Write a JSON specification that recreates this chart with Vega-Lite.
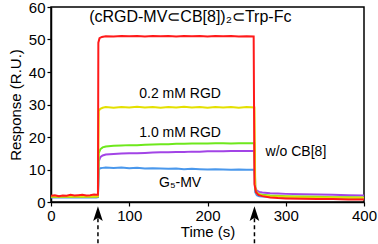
{
  "$schema": "https://vega.github.io/schema/vega-lite/v6.json",
  "autosize": {"type": "none"},
  "width": 313,
  "height": 195,
  "padding": {"left": 51, "top": 7, "right": 14, "bottom": 42},
  "background": "white",
  "config": {
    "view": {"stroke": "black", "strokeWidth": 1.5},
    "font": "Liberation Sans",
    "axis": {
      "grid": false,
      "domainColor": "black",
      "domainWidth": 1.5,
      "tickColor": "black",
      "tickSize": 4,
      "tickWidth": 1.2,
      "labelColor": "black",
      "labelFontSize": 15,
      "labelFont": "Liberation Sans",
      "labelFlush": false,
      "labelOverlap": false,
      "titleFont": "Liberation Sans",
      "titleFontSize": 14,
      "titleFontWeight": "normal",
      "titleColor": "black"
    }
  },
  "datasets": {
    "curves": [
      {"t": 0, "v": 1.4, "s": "blue"}, {"t": 58, "v": 1.4, "s": "blue"}, {"t": 60, "v": 1.5, "s": "blue"},
      {"t": 61, "v": 10.0, "s": "blue"}, {"t": 63, "v": 10.4, "s": "blue"}, {"t": 66, "v": 10.5, "s": "blue"},
      {"t": 70, "v": 10.6, "s": "blue"}, {"t": 80, "v": 10.5, "s": "blue"}, {"t": 90, "v": 10.6, "s": "blue"},
      {"t": 100, "v": 10.4, "s": "blue"}, {"t": 110, "v": 10.5, "s": "blue"}, {"t": 120, "v": 10.3, "s": "blue"},
      {"t": 130, "v": 10.4, "s": "blue"}, {"t": 140, "v": 10.3, "s": "blue"}, {"t": 150, "v": 10.2, "s": "blue"},
      {"t": 160, "v": 10.3, "s": "blue"}, {"t": 170, "v": 10.1, "s": "blue"}, {"t": 180, "v": 10.2, "s": "blue"},
      {"t": 190, "v": 10.1, "s": "blue"}, {"t": 200, "v": 10.0, "s": "blue"}, {"t": 210, "v": 10.1, "s": "blue"},
      {"t": 220, "v": 10.0, "s": "blue"}, {"t": 230, "v": 9.9, "s": "blue"}, {"t": 240, "v": 10.0, "s": "blue"},
      {"t": 250, "v": 9.9, "s": "blue"}, {"t": 260, "v": 9.9, "s": "blue"},
      {"t": 261, "v": 3.0, "s": "blue"}, {"t": 263, "v": 2.1, "s": "blue"}, {"t": 266, "v": 1.8, "s": "blue"},
      {"t": 270, "v": 1.7, "s": "blue"}, {"t": 280, "v": 1.6, "s": "blue"}, {"t": 300, "v": 1.5, "s": "blue"},
      {"t": 320, "v": 1.4, "s": "blue"}, {"t": 340, "v": 1.4, "s": "blue"}, {"t": 360, "v": 1.3, "s": "blue"},
      {"t": 380, "v": 1.3, "s": "blue"}, {"t": 400, "v": 1.2, "s": "blue"},

      {"t": 0, "v": 1.6, "s": "purple"}, {"t": 58, "v": 1.6, "s": "purple"}, {"t": 60, "v": 1.7, "s": "purple"},
      {"t": 61, "v": 12.5, "s": "purple"}, {"t": 63, "v": 13.8, "s": "purple"}, {"t": 66, "v": 14.3, "s": "purple"},
      {"t": 70, "v": 14.6, "s": "purple"}, {"t": 80, "v": 14.8, "s": "purple"}, {"t": 90, "v": 14.9, "s": "purple"},
      {"t": 100, "v": 15.0, "s": "purple"}, {"t": 110, "v": 15.0, "s": "purple"}, {"t": 120, "v": 15.1, "s": "purple"},
      {"t": 130, "v": 15.2, "s": "purple"}, {"t": 140, "v": 15.3, "s": "purple"}, {"t": 150, "v": 15.3, "s": "purple"},
      {"t": 160, "v": 15.4, "s": "purple"}, {"t": 170, "v": 15.4, "s": "purple"}, {"t": 180, "v": 15.5, "s": "purple"},
      {"t": 190, "v": 15.5, "s": "purple"}, {"t": 200, "v": 15.6, "s": "purple"}, {"t": 210, "v": 15.6, "s": "purple"},
      {"t": 220, "v": 15.6, "s": "purple"}, {"t": 230, "v": 15.7, "s": "purple"}, {"t": 240, "v": 15.7, "s": "purple"},
      {"t": 250, "v": 15.7, "s": "purple"}, {"t": 260, "v": 15.7, "s": "purple"},
      {"t": 261, "v": 4.5, "s": "purple"}, {"t": 263, "v": 3.5, "s": "purple"}, {"t": 266, "v": 3.1, "s": "purple"},
      {"t": 270, "v": 2.9, "s": "purple"}, {"t": 280, "v": 2.7, "s": "purple"}, {"t": 290, "v": 2.6, "s": "purple"},
      {"t": 300, "v": 2.5, "s": "purple"}, {"t": 320, "v": 2.4, "s": "purple"}, {"t": 340, "v": 2.3, "s": "purple"},
      {"t": 360, "v": 2.2, "s": "purple"}, {"t": 380, "v": 2.1, "s": "purple"}, {"t": 400, "v": 2.0, "s": "purple"},

      {"t": 0, "v": 1.6, "s": "green"}, {"t": 58, "v": 1.6, "s": "green"}, {"t": 60, "v": 1.7, "s": "green"},
      {"t": 61, "v": 15.0, "s": "green"}, {"t": 63, "v": 16.2, "s": "green"}, {"t": 66, "v": 16.8, "s": "green"},
      {"t": 70, "v": 17.1, "s": "green"}, {"t": 80, "v": 17.3, "s": "green"}, {"t": 90, "v": 17.4, "s": "green"},
      {"t": 100, "v": 17.5, "s": "green"}, {"t": 110, "v": 17.5, "s": "green"}, {"t": 120, "v": 17.6, "s": "green"},
      {"t": 130, "v": 17.7, "s": "green"}, {"t": 140, "v": 17.8, "s": "green"}, {"t": 150, "v": 17.8, "s": "green"},
      {"t": 160, "v": 17.9, "s": "green"}, {"t": 170, "v": 17.9, "s": "green"}, {"t": 180, "v": 18.0, "s": "green"},
      {"t": 190, "v": 18.0, "s": "green"}, {"t": 200, "v": 18.0, "s": "green"}, {"t": 210, "v": 18.1, "s": "green"},
      {"t": 220, "v": 18.1, "s": "green"}, {"t": 230, "v": 18.0, "s": "green"}, {"t": 240, "v": 18.1, "s": "green"},
      {"t": 250, "v": 18.1, "s": "green"}, {"t": 260, "v": 18.1, "s": "green"},
      {"t": 261, "v": 4.0, "s": "green"}, {"t": 263, "v": 2.8, "s": "green"}, {"t": 266, "v": 2.4, "s": "green"},
      {"t": 270, "v": 2.2, "s": "green"}, {"t": 280, "v": 2.0, "s": "green"}, {"t": 300, "v": 1.8, "s": "green"},
      {"t": 320, "v": 1.7, "s": "green"}, {"t": 340, "v": 1.6, "s": "green"}, {"t": 360, "v": 1.5, "s": "green"},
      {"t": 380, "v": 1.5, "s": "green"}, {"t": 400, "v": 1.4, "s": "green"},

      {"t": 0, "v": 1.7, "s": "yellow"}, {"t": 58, "v": 1.7, "s": "yellow"}, {"t": 60, "v": 1.8, "s": "yellow"},
      {"t": 61, "v": 28.0, "s": "yellow"}, {"t": 63, "v": 28.7, "s": "yellow"}, {"t": 66, "v": 29.0, "s": "yellow"},
      {"t": 70, "v": 29.2, "s": "yellow"}, {"t": 80, "v": 29.0, "s": "yellow"}, {"t": 90, "v": 29.2, "s": "yellow"},
      {"t": 100, "v": 29.1, "s": "yellow"}, {"t": 110, "v": 29.3, "s": "yellow"}, {"t": 120, "v": 29.1, "s": "yellow"},
      {"t": 130, "v": 29.2, "s": "yellow"}, {"t": 140, "v": 29.0, "s": "yellow"}, {"t": 150, "v": 29.2, "s": "yellow"},
      {"t": 160, "v": 29.1, "s": "yellow"}, {"t": 170, "v": 29.3, "s": "yellow"}, {"t": 180, "v": 29.1, "s": "yellow"},
      {"t": 190, "v": 29.2, "s": "yellow"}, {"t": 200, "v": 29.0, "s": "yellow"}, {"t": 210, "v": 29.2, "s": "yellow"},
      {"t": 220, "v": 29.1, "s": "yellow"}, {"t": 230, "v": 29.2, "s": "yellow"}, {"t": 240, "v": 29.0, "s": "yellow"},
      {"t": 250, "v": 29.2, "s": "yellow"}, {"t": 260, "v": 29.1, "s": "yellow"},
      {"t": 261, "v": 4.5, "s": "yellow"}, {"t": 263, "v": 2.8, "s": "yellow"}, {"t": 266, "v": 2.3, "s": "yellow"},
      {"t": 270, "v": 2.0, "s": "yellow"}, {"t": 280, "v": 1.8, "s": "yellow"}, {"t": 300, "v": 1.6, "s": "yellow"},
      {"t": 320, "v": 1.5, "s": "yellow"}, {"t": 340, "v": 1.4, "s": "yellow"}, {"t": 360, "v": 1.4, "s": "yellow"},
      {"t": 380, "v": 1.3, "s": "yellow"}, {"t": 400, "v": 1.3, "s": "yellow"},

      {"t": 0, "v": 1.9, "s": "red"}, {"t": 5, "v": 2.1, "s": "red"}, {"t": 10, "v": 1.8, "s": "red"},
      {"t": 15, "v": 2.0, "s": "red"}, {"t": 20, "v": 1.9, "s": "red"}, {"t": 25, "v": 2.2, "s": "red"},
      {"t": 30, "v": 2.0, "s": "red"}, {"t": 35, "v": 2.1, "s": "red"}, {"t": 40, "v": 2.2, "s": "red"},
      {"t": 45, "v": 2.0, "s": "red"}, {"t": 50, "v": 2.1, "s": "red"}, {"t": 55, "v": 2.3, "s": "red"},
      {"t": 58, "v": 2.2, "s": "red"}, {"t": 60, "v": 2.2, "s": "red"},
      {"t": 60.5, "v": 49.0, "s": "red"}, {"t": 62, "v": 50.4, "s": "red"}, {"t": 65, "v": 50.8, "s": "red"},
      {"t": 70, "v": 51.0, "s": "red"}, {"t": 80, "v": 50.9, "s": "red"}, {"t": 90, "v": 51.1, "s": "red"},
      {"t": 100, "v": 51.0, "s": "red"}, {"t": 110, "v": 51.1, "s": "red"}, {"t": 120, "v": 50.9, "s": "red"},
      {"t": 130, "v": 51.1, "s": "red"}, {"t": 140, "v": 51.0, "s": "red"}, {"t": 150, "v": 51.1, "s": "red"},
      {"t": 160, "v": 50.9, "s": "red"}, {"t": 170, "v": 51.1, "s": "red"}, {"t": 180, "v": 51.0, "s": "red"},
      {"t": 190, "v": 51.1, "s": "red"}, {"t": 200, "v": 50.9, "s": "red"}, {"t": 210, "v": 51.1, "s": "red"},
      {"t": 220, "v": 51.0, "s": "red"}, {"t": 230, "v": 51.1, "s": "red"}, {"t": 240, "v": 50.9, "s": "red"},
      {"t": 250, "v": 51.0, "s": "red"}, {"t": 259, "v": 50.9, "s": "red"},
      {"t": 260, "v": 5.5, "s": "red"}, {"t": 262, "v": 3.0, "s": "red"}, {"t": 265, "v": 2.2, "s": "red"},
      {"t": 270, "v": 1.8, "s": "red"}, {"t": 280, "v": 1.4, "s": "red"}, {"t": 290, "v": 1.2, "s": "red"},
      {"t": 300, "v": 1.1, "s": "red"}, {"t": 320, "v": 1.0, "s": "red"}, {"t": 340, "v": 0.9, "s": "red"},
      {"t": 360, "v": 0.9, "s": "red"}, {"t": 380, "v": 0.8, "s": "red"}, {"t": 400, "v": 0.8, "s": "red"}
    ],
    "labels": [
      {"t": 178, "v": 56.8, "label": "(cRGD-MV⊂CB[8])₂⊂Trp-Fc", "fs": 16},
      {"t": 165, "v": 33.2, "label": "0.2 mM RGD", "fs": 14},
      {"t": 165, "v": 21.2, "label": "1.0 mM RGD", "fs": 14},
      {"t": 165, "v": 6.0, "label": "G₅-MV", "fs": 14},
      {"t": 313, "v": 15.4, "label": "w/o CB[8]", "fs": 14}
    ],
    "shafts": [
      {"t": 60, "v": -5.0, "v2": -13.5},
      {"t": 260, "v": -5.0, "v2": -13.5}
    ],
    "heads": [
      {"t": 60, "v": -3.6},
      {"t": 260, "v": -3.6}
    ]
  },
  "encoding": {
    "x": {"field": "t", "type": "quantitative",
          "scale": {"domain": [0, 400], "nice": false},
          "axis": {"values": [0, 100, 200, 300, 400], "title": "Time (s)", "titleFontSize": 15, "titlePadding": 1, "labelPadding": 2, "labelOverlap": false}},
    "y": {"field": "v", "type": "quantitative",
          "scale": {"domain": [0, 60], "nice": false},
          "axis": {"values": [0, 10, 20, 30, 40, 50, 60], "title": "Response (R.U.)", "titleFontSize": 15, "titlePadding": 5, "labelPadding": 2, "labelOverlap": false}}
  },
  "layer": [
    {
      "data": {"name": "curves"},
      "mark": {"type": "line", "strokeWidth": 2, "clip": true},
      "encoding": {
        "color": {"field": "s", "type": "nominal", "legend": null,
                  "scale": {"domain": ["blue", "purple", "green", "yellow", "red"],
                            "range": ["#4a98ec", "#a244e6", "#6ee81c", "#e4e000", "#ff1a1a"]}}
      }
    },
    {
      "data": {"name": "labels"},
      "mark": {"type": "text", "font": "Liberation Sans", "color": "black", "align": "center", "baseline": "middle"},
      "encoding": {
        "text": {"field": "label"},
        "size": {"field": "fs", "type": "quantitative", "scale": null}
      }
    },
    {
      "data": {"name": "shafts"},
      "mark": {"type": "rule", "strokeDash": [4, 3], "strokeWidth": 1.5, "color": "black", "clip": false},
      "encoding": {
        "y2": {"field": "v2"}
      }
    },
    {
      "data": {"name": "heads"},
      "mark": {"type": "point", "shape": "M0,-1L0.65,1L0,0.55L-0.65,1Z", "size": 220, "filled": true, "color": "black", "opacity": 1, "clip": false},
      "encoding": {}
    }
  ]
}
